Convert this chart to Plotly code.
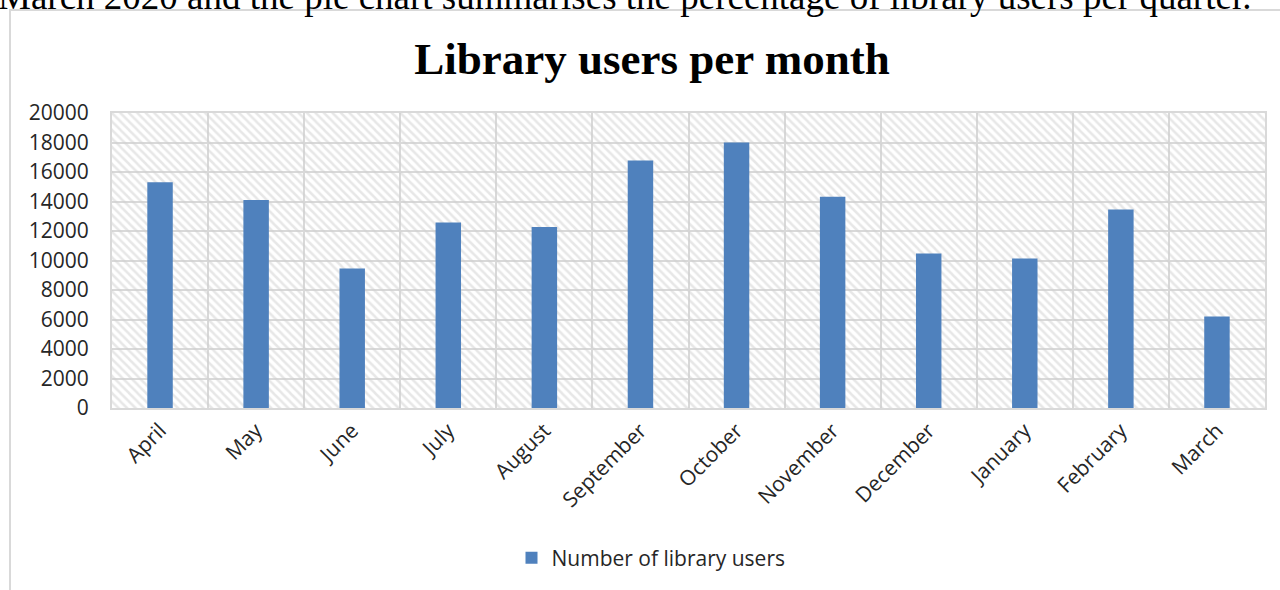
import plotly.graph_objects as go

# Monthly library users, April 2019 - March 2020
months = ["April", "May", "June", "July", "August", "September",
          "October", "November", "December", "January", "February", "March"]
users = [15300, 14100, 9450, 12580, 12270, 16780,
         18000, 14330, 10480, 10140, 13460, 6200]

y_max = 20000
y_step = 2000

W, H = 1280, 590
ML, MR, MT, MB = 112, 15, 113, 182

BLUE = "#4f81bd"
GRID = "#d9d9d9"
TEXT = "#262626"

fig = go.Figure()

# hatched plot-area background, one full-width cell per month
fig.add_trace(go.Bar(
    x=months, y=[y_max] * len(months), width=1.0,
    marker=dict(color="rgba(0,0,0,0)", line=dict(width=0),
                pattern=dict(shape="\\", fgcolor="#d0d0d0",
                             bgcolor="rgba(0,0,0,0)",
                             size=6, solidity=0.42)),
    hoverinfo="skip", showlegend=False,
))

fig.add_trace(go.Bar(
    x=months, y=users, width=0.265, name="Number of library users",
    marker=dict(color=BLUE, line=dict(width=0)),
))

pw = W - ML - MR
ph = H - MT - MB

# outer chart frame
fig.add_shape(type="rect", xref="paper", yref="paper",
              x0=(10 - ML) / pw, x1=(W + 5 - ML) / pw,
              y0=(H - MB - (H + 5)) / ph, y1=(H - MB - 10) / ph,
              line=dict(color=GRID, width=2), fillcolor="rgba(0,0,0,0)", layer="below")

# running text of the surrounding document
fig.add_annotation(
    text="March 2020 and the pie chart summarises the percentage of library users per quarter.",
    xref="paper", yref="paper", x=(-4 - ML) / pw, y=(H - MB - 19) / ph,
    xanchor="left", yanchor="bottom", showarrow=False,
    font=dict(family="Liberation Serif", size=37, color="black"),
)

fig.update_layout(
    width=W, height=H,
    margin=dict(l=ML, r=MR, t=MT, b=MB),
    paper_bgcolor="white", plot_bgcolor="white",
    barmode="overlay",
    title=dict(text="<b>Library users per month</b>", x=652 / W, xanchor="center",
               y=1 - 58 / H, yanchor="middle", yref="container",
               font=dict(family="Liberation Serif", size=45, color="black")),
    font=dict(family="Open Sans", color=TEXT),
    legend=dict(orientation="h", x=(651 - ML) / pw, xanchor="center",
                y=(H - MB - 558) / ph, yanchor="middle",
                font=dict(size=21, color=TEXT), itemwidth=30),
    xaxis=dict(
        type="category", tickson="boundaries", range=[-0.5, 11.5],
        showgrid=True, gridcolor=GRID, gridwidth=2,
        showline=True, linecolor=GRID, linewidth=2, mirror=True,
        tickangle=-45, ticks="outside", ticklen=9, tickcolor="rgba(0,0,0,0)",
        tickfont=dict(size=21, color=TEXT),
    ),
    yaxis=dict(
        range=[0, y_max], dtick=y_step, tick0=0, tickformat="d",
        showgrid=True, gridcolor=GRID, gridwidth=2,
        showline=True, linecolor=GRID, linewidth=2, mirror=True,
        zeroline=False,
        ticks="outside", ticklen=17, tickcolor="rgba(0,0,0,0)",
        tickfont=dict(size=21, color=TEXT),
    ),
)

fig.write_html("out.html")
